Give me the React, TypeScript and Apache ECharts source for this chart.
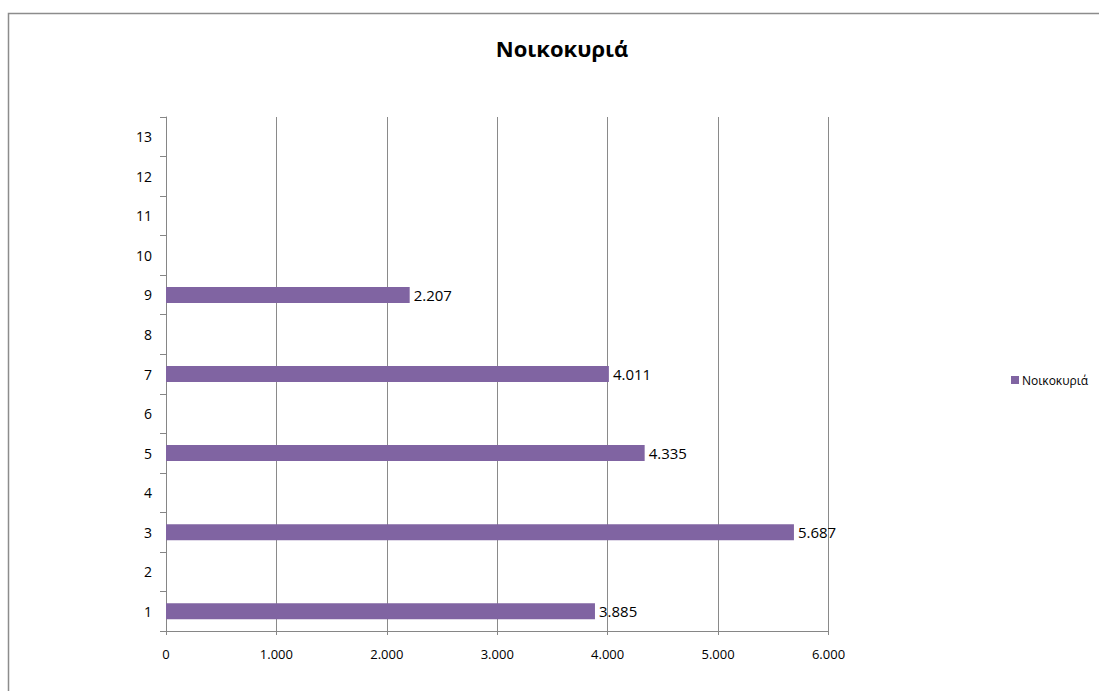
import React, { useEffect, useRef } from "react";
import * as echarts from "echarts";

// Household counts per category (empty categories carry no bar)
const categories: string[] = ["1", "2", "3", "4", "5", "6", "7", "8", "9", "10", "11", "12", "13"];
const households: (number | null)[] = [3885, null, 5687, null, 4335, null, 4011, null, 2207, null, null, null, null];
const seriesName = "Νοικοκυριά";
const chartTitle = "Νοικοκυριά";

// Greek-style thousands separator: 5687 -> "5.687"
const fmt = (v: number): string => {
  const s = Math.round(v).toString();
  return s.replace(/\B(?=(\d{3})+(?!\d))/g, ".");
};

const FONT = "'Open Sans', 'Noto Sans', sans-serif";

export default function App() {
  const ref = useRef<HTMLDivElement>(null);

  useEffect(() => {
    if (!ref.current) return;
    const chart = echarts.init(ref.current, undefined, { renderer: "svg" });
    chart.setOption({
      animation: false,
      backgroundColor: "#ffffff",
      title: {
        text: chartTitle,
        left: 557,
        textAlign: "center",
        top: 32,
        textStyle: { fontFamily: FONT, fontSize: 22, fontWeight: "bold", color: "#000" },
      },
      legend: {
        data: [seriesName],
        left: 1011,
        top: 374,
        padding: 0,
        itemWidth: 8,
        itemHeight: 8,
        icon: "rect",
        itemGap: 4,
        textStyle: { fontFamily: FONT, fontSize: 12, color: "#000", padding: [0, 0, 0, -2] },
      },
      graphic: [
        {
          type: "rect",
          shape: { x: 8.5, y: 13.5, width: 1200, height: 1000 },
          style: { fill: "none", stroke: "#8c8c8c", lineWidth: 1.5 },
          silent: true,
        },
      ],
      grid: { left: 166, top: 117, width: 662.5, height: 514 },
      xAxis: {
        type: "value",
        min: 0,
        max: 6000,
        interval: 1000,
        axisLine: { show: true, lineStyle: { color: "#868686" } },
        axisTick: { show: true, length: 4, lineStyle: { color: "#868686" } },
        splitLine: { show: true, lineStyle: { color: "#8a8a8a", width: 1 } },
        axisLabel: {
          formatter: (v: number) => fmt(v),
          fontFamily: FONT,
          fontSize: 13,
          color: "#000",
          margin: 16,
        },
      },
      yAxis: {
        type: "category",
        data: categories,
        boundaryGap: true,
        axisLine: { show: true, lineStyle: { color: "#868686" } },
        axisTick: { show: true, length: 6, alignWithLabel: false, lineStyle: { color: "#868686" } },
        splitLine: { show: false },
        axisLabel: { fontFamily: FONT, fontSize: 14, color: "#000", margin: 14 },
      },
      series: [
        {
          name: seriesName,
          type: "bar",
          data: households,
          barWidth: 16,
          itemStyle: { color: "#8064A2" },
          label: {
            show: true,
            position: "right",
            distance: 4,
            formatter: (p: any) => fmt(p.value),
            fontFamily: FONT,
            fontSize: 15,
            color: "#000",
          },
        },
      ],
    });
    return () => chart.dispose();
  }, []);

  return (
    <div
      ref={ref}
      style={{ position: "fixed", left: 0, top: 0, width: 1099, height: 691, overflow: "hidden" }}
    />
  );
}
